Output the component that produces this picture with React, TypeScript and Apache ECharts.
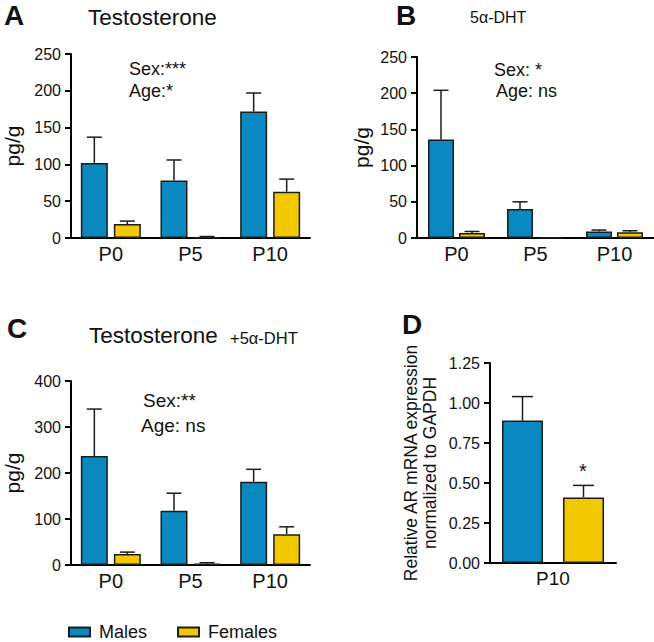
import React, { useEffect, useRef } from "react";
import * as echarts from "echarts";

// ---- data ----
const categories = ["P0", "P5", "P10"];
const dCategories = ["P10"];

// Panel A: Testosterone (pg/g)
const aMales = [102, 78, 172];
const aMalesErr = [35, 28, 25];
const aFemales = [19, 1, 63];
const aFemalesErr = [4, 1, 17];

// Panel B: 5α-DHT (pg/g)
const bMales = [136, 40, 9];
const bMalesErr = [68, 10, 2];
const bFemales = [7, 1, 8];
const bFemalesErr = [2, 0, 2];

// Panel C: Testosterone + 5α-DHT (pg/g)
const cMales = [237, 118, 181];
const cMalesErr = [102, 38, 27];
const cFemales = [24, 3, 67];
const cFemalesErr = [4, 2, 16];

// Panel D: relative AR mRNA
const dMales = [0.89];
const dMalesErr = [0.15];
const dFemales = [0.41];
const dFemalesErr = [0.075];

// axis scales
const abMax = 250;
const abInterval = 50;
const cMax = 400;
const cInterval = 100;
const dMax = 1.25;
const dInterval = 0.25;

const BLUE = "#0a89c1";
const YELLOW = "#f2c900";
const FONT = "Liberation Sans, Arial, Helvetica, sans-serif";

type PanelCfg = {
  idx: number;
  grid: { left: number; top: number; width: number; height: number };
  cats: string[];
  max: number;
  interval: number;
  males: number[];
  malesErr: number[];
  females: number[];
  femalesErr: number[];
  barWidth: number;
  gapPx: number;
  cap: number;
  decimals: number;
  yName: string;
  yNameSize: number;
  nameGap: number;
  xLabelSize: number;
};

function buildPanel(p: PanelCfg) {
  const grid = { ...p.grid, containLabel: false };
  const xAxis = {
    type: "category",
    gridIndex: p.idx,
    data: p.cats,
    axisLine: { lineStyle: { color: "#000", width: 2 } },
    axisTick: { show: false },
    axisLabel: { color: "#111", fontSize: p.xLabelSize, fontFamily: FONT, margin: 6 },
  };
  const yAxis = {
    type: "value",
    gridIndex: p.idx,
    min: 0,
    max: p.max,
    interval: p.interval,
    name: p.yName,
    nameLocation: "middle",
    nameGap: p.nameGap,
    nameTextStyle: { color: "#111", fontSize: p.yNameSize, fontFamily: FONT, lineHeight: p.yNameSize + 2 },
    axisLine: { show: true, lineStyle: { color: "#000", width: 2 } },
    axisTick: { show: true, inside: false, length: 6, lineStyle: { color: "#000", width: 2 } },
    splitLine: { show: false },
    axisLabel: {
      color: "#111",
      fontSize: 16,
      fontFamily: FONT,
      margin: 10,
      formatter: (v: number) => v.toFixed(p.decimals),
    },
  };
  const gapPct = ((p.gapPx / p.barWidth) * 100).toFixed(1) + "%";
  const barStyle = (color: string) => ({ color, borderColor: "#1c1c1c", borderWidth: 1.5 });
  const off = (p.barWidth + p.gapPx) / 2;
  const errSeries = (vals: number[], errs: number[], dx: number) => ({
    type: "custom",
    xAxisIndex: p.idx,
    yAxisIndex: p.idx,
    z: 5,
    silent: true,
    data: vals.map((v, i) => [i, v, errs[i]]),
    renderItem: (_params: any, api: any) => {
      const i = api.value(0);
      const v = api.value(1);
      const e = api.value(2);
      if (!e) return { type: "group", children: [] };
      const a = api.coord([i, v]);
      const b = api.coord([i, v + e]);
      const x = a[0] + dx;
      return {
        type: "group",
        children: [
          { type: "line", shape: { x1: x, y1: a[1], x2: x, y2: b[1] }, style: { stroke: "#1c1c1c", lineWidth: 1.5 } },
          {
            type: "line",
            shape: { x1: x - p.cap / 2, y1: b[1], x2: x + p.cap / 2, y2: b[1] },
            style: { stroke: "#1c1c1c", lineWidth: 1.5 },
          },
        ],
      };
    },
  });
  const series = [
    {
      name: "Males",
      type: "bar",
      xAxisIndex: p.idx,
      yAxisIndex: p.idx,
      data: p.males,
      barWidth: p.barWidth,
      barGap: gapPct,
      itemStyle: barStyle(BLUE),
      z: 2,
    },
    {
      name: "Females",
      type: "bar",
      xAxisIndex: p.idx,
      yAxisIndex: p.idx,
      data: p.females,
      barWidth: p.barWidth,
      barGap: gapPct,
      itemStyle: barStyle(YELLOW),
      z: 2,
    },
    errSeries(p.males, p.malesErr, -off),
    errSeries(p.females, p.femalesErr, off),
  ];
  return { grid, xAxis, yAxis, series };
}

function txt(text: string, x: number, y: number, size: number, opts: any = {}) {
  return {
    type: "text",
    x,
    y,
    style: {
      text,
      fill: "#111",
      fontSize: size,
      fontFamily: FONT,
      fontWeight: opts.bold ? "bold" : "normal",
      align: opts.align || "left",
      verticalAlign: "middle",
    },
  };
}

export default function App() {
  const ref = useRef<HTMLDivElement>(null);
  useEffect(() => {
    if (!ref.current) return;
    const chart = echarts.init(ref.current, undefined, { renderer: "svg" });
    const panels: PanelCfg[] = [
      {
        idx: 0,
        grid: { left: 70, top: 54, width: 240, height: 184 },
        cats: categories,
        max: abMax,
        interval: abInterval,
        males: aMales,
        malesErr: aMalesErr,
        females: aFemales,
        femalesErr: aFemalesErr,
        barWidth: 27,
        gapPx: 6,
        cap: 15,
        decimals: 0,
        yName: "pg/g",
        yNameSize: 21,
        nameGap: 47,
        xLabelSize: 20,
      },
      {
        idx: 1,
        grid: { left: 417, top: 57, width: 237, height: 181 },
        cats: categories,
        max: abMax,
        interval: abInterval,
        males: bMales,
        malesErr: bMalesErr,
        females: bFemales,
        femalesErr: bFemalesErr,
        barWidth: 26,
        gapPx: 5,
        cap: 15,
        decimals: 0,
        yName: "pg/g",
        yNameSize: 21,
        nameGap: 44,
        xLabelSize: 20,
      },
      {
        idx: 2,
        grid: { left: 68, top: 381, width: 242, height: 184 },
        cats: categories,
        max: cMax,
        interval: cInterval,
        males: cMales,
        malesErr: cMalesErr,
        females: cFemales,
        femalesErr: cFemalesErr,
        barWidth: 27,
        gapPx: 6,
        cap: 15,
        decimals: 0,
        yName: "pg/g",
        yNameSize: 21,
        nameGap: 47,
        xLabelSize: 20,
      },
      {
        idx: 3,
        grid: { left: 490, top: 363, width: 126, height: 200 },
        cats: dCategories,
        max: dMax,
        interval: dInterval,
        males: dMales,
        malesErr: dMalesErr,
        females: dFemales,
        femalesErr: dFemalesErr,
        barWidth: 41,
        gapPx: 20,
        cap: 21,
        decimals: 2,
        yName: "Relative AR mRNA expression\nnormalized to GAPDH",
        yNameSize: 17.5,
        nameGap: 50,
        xLabelSize: 19,
      },
    ];
    const built = panels.map(buildPanel);
    chart.setOption({
      animation: false,
      backgroundColor: "#fff",
      grid: built.map((b) => b.grid),
      xAxis: built.map((b) => b.xAxis),
      yAxis: built.map((b) => b.yAxis),
      series: built.flatMap((b) => b.series),
      legend: {
        data: ["Males", "Females"],
        left: 68,
        top: 623,
        padding: 0,
        icon: "rect",
        itemWidth: 21,
        itemHeight: 9,
        itemGap: 30,
        textStyle: { color: "#111", fontSize: 18, fontFamily: FONT, padding: [0, 0, 0, 4] },
      },
      graphic: [
        txt("A", 4, 15, 28, { bold: true }),
        txt("Testosterone", 88, 17, 22.5),
        txt("Sex:***", 129, 69, 18),
        txt("Age:*", 129, 91, 18),
        txt("B", 396, 15, 28, { bold: true }),
        txt("5α-DHT", 470, 17, 16),
        txt("Sex: *", 494, 70, 18),
        txt("Age: ns", 496, 91, 18),
        txt("C", 7, 328, 28, { bold: true }),
        txt("Testosterone", 89, 335, 22.5),
        txt("+5α-DHT", 230, 338, 16.5),
        txt("Sex:**", 143, 400, 19),
        txt("Age: ns", 141, 425, 19),
        txt("D", 402, 324, 28, { bold: true }),
        txt("*", 583, 471, 20, { align: "center" }),
      ],
    });
    return () => chart.dispose();
  }, []);
  return (
    <div
      ref={ref}
      style={{ position: "absolute", left: 0, top: 0, width: 654, height: 642, background: "#fff" }}
    />
  );
}
